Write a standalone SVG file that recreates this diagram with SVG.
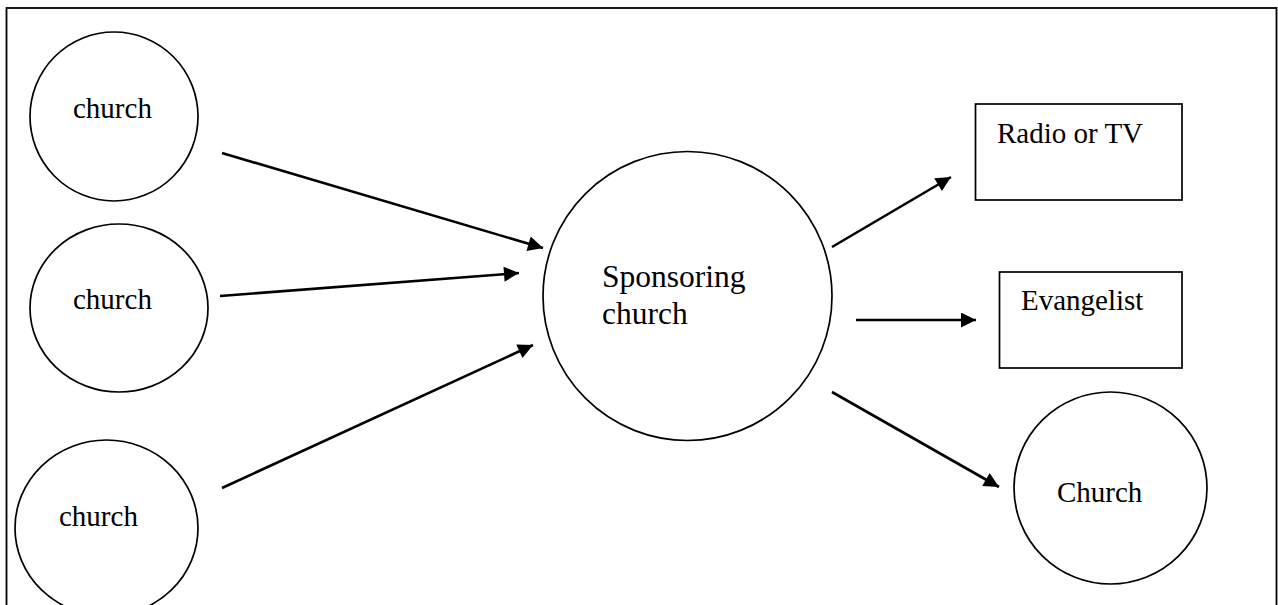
<svg xmlns="http://www.w3.org/2000/svg" width="1278" height="605" viewBox="0 0 1278 605">
<style>
.shape{fill:#fff;stroke:#000;stroke-width:1.7}
.lbl{font-family:"Liberation Serif","Times New Roman",serif;font-size:29px;fill:#000}
.big{font-size:31.5px}
.conn line{stroke:#000;stroke-width:2.6}
</style>
<defs>
<marker id="ah" viewBox="0 0 10 10" refX="10" refY="5" markerUnits="userSpaceOnUse" markerWidth="18" markerHeight="15" orient="auto">
<path d="M0,0 L10,5 L0,10 Z" fill="#000"/>
</marker>
</defs>
<rect x="6.5" y="8" width="1270" height="610" fill="none" stroke="#000" stroke-width="1.8"/>
<g id="church1"><ellipse class="shape" cx="114" cy="116.5" rx="84" ry="84.5"/><text class="lbl" x="73" y="118">church</text></g>
<g id="church2"><ellipse class="shape" cx="119" cy="308" rx="89" ry="84"/><text class="lbl" x="73" y="309">church</text></g>
<g id="church3"><ellipse class="shape" cx="106.5" cy="528" rx="91.5" ry="88"/><text class="lbl" x="59" y="526">church</text></g>
<g id="sponsor"><circle class="shape" cx="687.5" cy="296" r="144.5"/><text class="lbl big" x="602" y="287">Sponsoring</text><text class="lbl big" x="602" y="324">church</text></g>
<g id="radio"><rect class="shape" x="975.5" y="104" width="206.5" height="96"/><text class="lbl" x="997" y="143">Radio or TV</text></g>
<g id="evangelist"><rect class="shape" x="999.5" y="272" width="182.5" height="96"/><text class="lbl" x="1021" y="310">Evangelist</text></g>
<g id="church4"><ellipse class="shape" cx="1110.5" cy="488" rx="96.5" ry="96"/><text class="lbl" x="1057" y="502">Church</text></g>
<g class="conn" id="connectors">
<line x1="222" y1="153" x2="543" y2="248" marker-end="url(#ah)"/>
<line x1="220" y1="296" x2="519" y2="273" marker-end="url(#ah)"/>
<line x1="222" y1="488" x2="533" y2="345" marker-end="url(#ah)"/>
<line x1="832" y1="247" x2="951" y2="177" marker-end="url(#ah)"/>
<line x1="856" y1="320" x2="976" y2="320" marker-end="url(#ah)"/>
<line x1="832" y1="392" x2="999" y2="487" marker-end="url(#ah)"/>
</g>
</svg>
